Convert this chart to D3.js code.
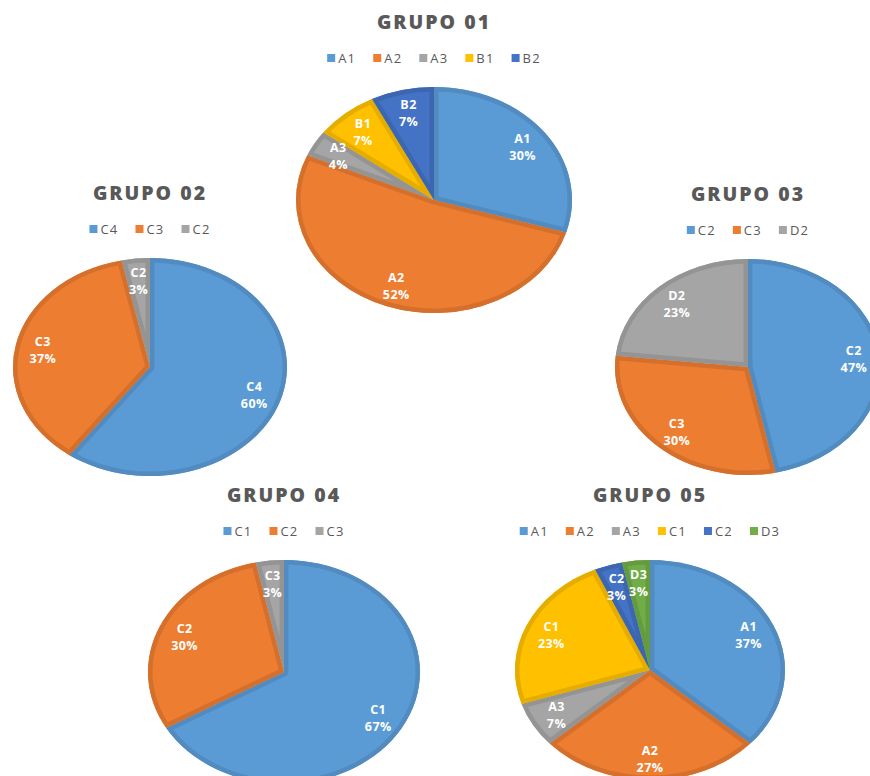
<!DOCTYPE html>
<html>
<head>
<meta charset="utf-8">
<script src="https://cdn.jsdelivr.net/npm/d3@7"></script>
<style>
  body { margin: 0; background: #fff; }
  svg { display: block; }
</style>
</head>
<body>
<div id="container"></div>
<script>
// counts per category, shown as rounded percentages
const titles = ["GRUPO 01", "GRUPO 02", "GRUPO 03", "GRUPO 04", "GRUPO 05"]

const grupo01Cats = ["A1", "A2", "A3", "B1", "B2"]
const grupo01Vals = [8, 14, 1, 2, 2]

const grupo02Cats = ["C4", "C3", "C2"]
const grupo02Vals = [18, 11, 1]

const grupo03Cats = ["C2", "C3", "D2"]
const grupo03Vals = [14, 9, 7]

const grupo04Cats = ["C1", "C2", "C3"]
const grupo04Vals = [20, 9, 1]

const grupo05Cats = ["A1", "A2", "A3", "C1", "C2", "D3"]
const grupo05Vals = [11, 8, 2, 7, 1, 1]

const palette = ["#5b9bd5", "#ed7d31", "#a5a5a5", "#ffc000", "#4472c4", "#70ad47"]

// layout: pie centre and radii (the pies are stretched into ellipses)
const layout = [
    {cx: 434, cy: 200, rx: 138, ry: 113},
    {cx: 150, cy: 367, rx: 137, ry: 109},
    {cx: 748, cy: 367, rx: 133, ry: 108},
    {cx: 284, cy: 672, rx: 136, ry: 112},
    {cx: 650, cy: 670, rx: 135, ry: 110}
]

const cats = [grupo01Cats, grupo02Cats, grupo03Cats, grupo04Cats, grupo05Cats]
const vals = [grupo01Vals, grupo02Vals, grupo03Vals, grupo04Vals, grupo05Vals]

let width = 870
let height = 776

let svg = d3.select("#container")
    .append("svg")
    .attr("width", width)
    .attr("height", height)

let defs = svg.append("defs")

let pie = d3.pie().sort(null).value(d => d.value)
let R = 100
let arc = d3.arc().innerRadius(0).outerRadius(R)
let fmt = d3.format(".0%")

titles.forEach((title, gi) => {
    let L = layout[gi]
    let data = cats[gi].map((c, i) => ({name: c, value: vals[gi][i], color: palette[i]}))
    let total = d3.sum(data, d => d.value)
    let top = L.cy - L.ry
    let stretch = `translate(${L.cx},${L.cy}) scale(${L.rx / R},${L.ry / R})`

    // title
    svg.append("text")
        .attr("x", L.cx)
        .attr("y", top - 58)
        .attr("text-anchor", "middle")
        .attr("font-family", "Open Sans, sans-serif")
        .attr("font-weight", 800)
        .attr("font-size", 19.5)
        .attr("letter-spacing", 2)
        .attr("fill", "#595959")
        .text(title)

    // legend
    let lg = svg.append("g")
    let xPos = 0
    data.forEach(d => {
        let item = lg.append("g").attr("transform", `translate(${xPos},0)`)
        item.append("rect")
            .attr("x", 0).attr("y", -4)
            .attr("width", 8).attr("height", 8)
            .attr("fill", d.color)
        let t = item.append("text")
            .attr("x", 11).attr("y", 4.5)
            .attr("font-family", "Open Sans, sans-serif")
            .attr("font-size", 13)
            .attr("letter-spacing", 1.2)
            .attr("fill", "#595959")
            .text(d.name)
        xPos += 11 + t.node().getComputedTextLength() + 17
    })
    let lw = xPos - 17
    lg.attr("transform", `translate(${L.cx - lw / 2},${top - 29})`)

    // pie, scaled to an ellipse
    let g = svg.append("g").attr("transform", stretch)
    let arcs = pie(data)

    arcs.forEach((a, i) => {
        defs.append("clipPath").attr("id", `clip-${gi}-${i}`)
            .append("path").attr("d", arc(a))
    })

    g.selectAll("path.slice")
        .data(arcs)
        .join("path")
        .attr("class", "slice")
        .attr("d", arc)
        .attr("fill", d => d.data.color)

    // darker inner border for every slice
    g.selectAll("path.border")
        .data(arcs)
        .join("path")
        .attr("class", "border")
        .attr("d", arc)
        .attr("fill", "none")
        .attr("stroke", d => d3.color(d.data.color).darker(0.3))
        .attr("stroke-width", 9)
        .attr("stroke-linejoin", "round")
        .attr("vector-effect", "non-scaling-stroke")
        .attr("clip-path", (d, i) => `url(#clip-${gi}-${i})`)

    // labels
    let labelArc = d3.arc().innerRadius(R * 0.8).outerRadius(R * 0.8)
    arcs.forEach(a => {
        let [px, py] = labelArc.centroid(a)
        let x = L.cx + px * L.rx / R
        let y = L.cy + py * L.ry / R
        let t = svg.append("text")
            .attr("text-anchor", "middle")
            .attr("font-family", "Open Sans, sans-serif")
            .attr("font-weight", 700)
            .attr("font-size", 12.5)
            .attr("letter-spacing", 0.4)
            .attr("fill", "#fff")
        t.append("tspan").attr("x", x).attr("y", y - 3).text(a.data.name)
        t.append("tspan").attr("x", x).attr("y", y + 14).text(fmt(a.data.value / total))
    })
})
</script>
</body>
</html>
